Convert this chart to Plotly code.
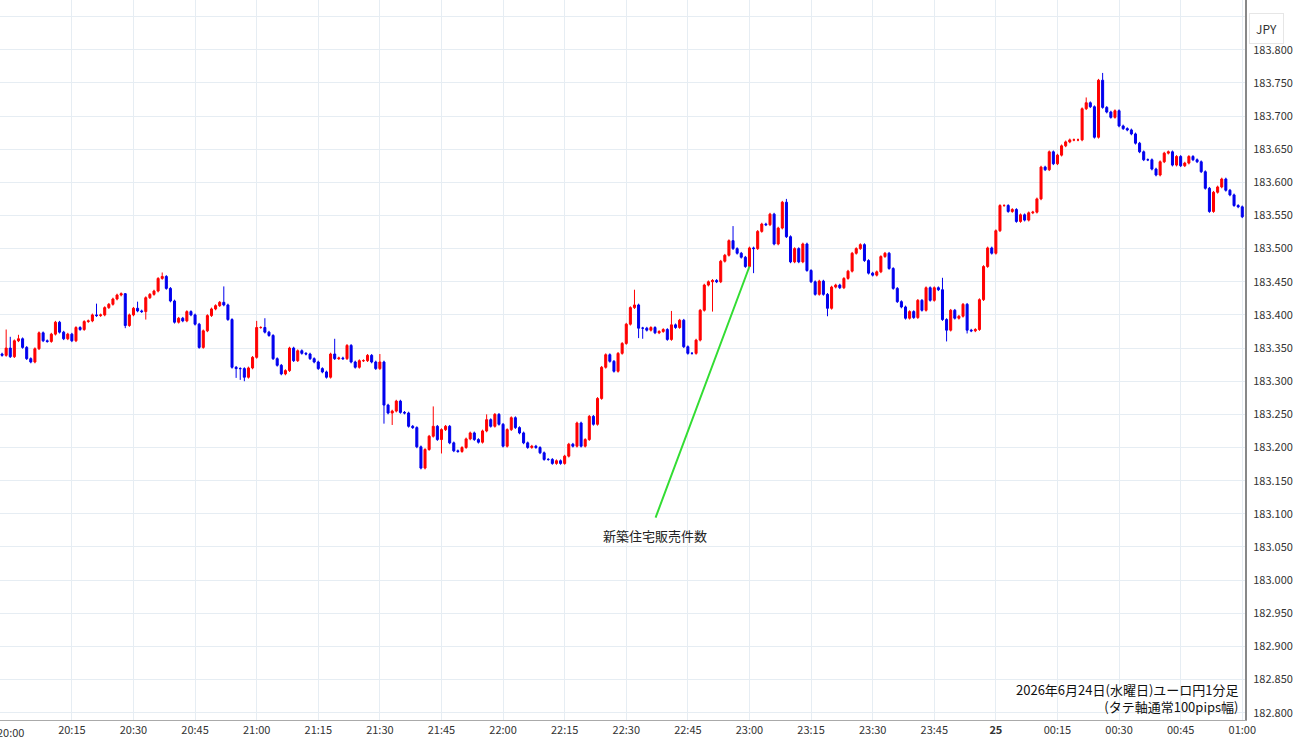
import plotly.graph_objects as go
import pandas as pd

# closes per 1-minute candle (EUR/JPY)
close_a = [183.339,183.350,183.337,183.361,183.364,183.351,183.334,183.329,183.349,183.373,
           183.361,183.360,183.371,183.389,183.374,183.364,183.371,183.361,183.381,183.378,
           183.390,183.391,183.400,183.399,183.400,183.411,183.416,183.424,183.430,183.432,
           183.384,183.400,183.410,183.406,183.405,183.426,183.431,183.436,183.455,183.458,
           183.440,183.421,183.389,183.395,183.391,183.405,183.400,183.386,183.351,183.376,
           183.399,183.409,183.414,183.419,183.415,183.393,183.321,183.319,183.319,183.306,
           183.320,183.336,183.381,183.381,183.374,183.369,183.334,183.324,183.311,183.316,
           183.350,183.331,183.346,183.342,183.341,183.334,183.329,183.319,183.314,183.306,
           183.341,183.334,183.335,183.334,183.354,183.329,183.321,183.331,183.331,183.339,
           183.329,183.319,183.329]
close_b = [183.264,183.252,183.255,183.270,183.253,183.252,183.232,183.230,183.201,183.169,
           183.197,183.217,183.232,183.212,183.227,183.232,183.207,183.195,183.194,183.200,
           183.213,183.222,183.212,183.208,183.225,183.242,183.232,183.250,183.235,183.202,
           183.227,183.245,183.230,183.222,183.207,183.200,183.202,183.200,183.192,183.182,
           183.182,183.176,183.180,183.176,183.187,183.205,183.202,183.237,183.202,183.212,
           183.247,183.235,183.274,183.321,183.340,183.330,183.315,183.342,183.357,183.386,
           183.411,183.415,183.380,183.380,183.377,183.381,183.373,183.375,183.378,183.363,
           183.385,183.381,183.392,183.352,183.342,183.342,183.362]
close_c = [183.407,183.445,183.450,183.452,183.450,183.481,183.490,183.512,183.500,183.493,
           183.487,183.473,183.501,183.500,183.526,183.537,183.536,183.552,183.507,183.531,
           183.570,183.518,183.480,183.500,183.480,183.507,183.467,183.450,183.431,183.451,
           183.431,183.410,183.442,183.445,183.441,183.455,183.466,183.493,183.500,183.506,
           183.482,183.463,183.460,183.465,183.488,183.493,183.470,183.440,183.420,183.412,
           183.395,183.405,183.396,183.422,183.407,183.441,183.422,183.441,183.438,183.393,
           183.377,183.407,183.395,183.398,183.416,183.377,183.376,183.378,183.423,183.473,
           183.501,183.493,183.527]
close_d = [183.565,183.565,183.556,183.559,183.541,183.551,183.543,183.554,183.555,183.575,
           183.623,183.619,183.646,183.628,183.641,183.655,183.661,183.664,183.664,183.664,
           183.711,183.720,183.714,183.668,183.754,183.713,183.706,183.698,183.708,183.685,
           183.681,183.679,183.673,183.659,183.646,183.634,183.634,183.620,183.611,183.631,
           183.644,183.646,183.626,183.639,183.625,183.629,183.639,183.634,183.631,183.616,
           183.591,183.556,183.585,183.593,183.605,183.588,183.581,183.565,183.563,183.548]
first_open = 183.341

# wick lengths beyond the body, in 0.001 yen
wick_up = [2,28,17,2,6,2,2,2,2,2, 2,2,2,2,2,2,2,2,2,2, 2,2,2,17,2,2,2,2,2,2,
           1,2,2,10,2,2,2,2,2,6, 2,2,2,2,2,2,2,2,2,2, 2,2,2,2,24,2,2,2,2,2,
           2,2,10,2,14,2,2,2,2,2, 2,2,2,2,2,2,2,2,2,2, 2,23,2,2,2,2,2,2,2,2, 2,2,12,
           2,2,2,2,2,2,2,2,2,2, 2,2,30,2,2,2,2,2,2,2, 2,2,2,2,2,8,2,2,2,2,
           2,2,2,2,2,2,2,2,2,2, 2,2,2,2,2,2,2,2,2,2, 2,2,2,2,2,2,2,2,2,2,
           2,23,2,2,2,2,2,2,2,2, 21,2,2,2,2,2,2,
           2,2,2,2,2,2,2,2,22,2, 2,2,2,2,2,2,2,2,2,2, 2,5,2,2,2,2,2,2,2,2,
           2,2,2,2,2,2,2,2,2,2, 2,2,2,2,2,2,2,2,2,2, 2,2,2,2,2,2,2,2,2,18,
           2,2,2,2,2,2,2,2,2,2, 2,2,2,
           2,2,2,2,2,2,2,2,2,2, 2,2,2,2,2,2,2,2,2,2, 2,8,2,2,2,11,2,2,2,2,
           2,2,2,2,2,2,2,2,2,2, 2,2,2,2,2,2,2,2,2,2, 2,2,2,2,2,2,2,2,2,2]
wick_dn = [2,2,2,2,2,2,2,2,2,2, 2,2,2,2,2,2,2,2,2,2, 2,2,2,2,2,2,2,2,2,2,
           4,2,2,2,2,12,2,2,2,2, 2,2,2,2,2,2,2,2,2,2, 2,2,2,2,2,2,2,14,17,6,
           2,2,2,2,2,2,2,2,2,2, 2,2,2,2,2,2,2,2,2,2, 2,2,2,2,2,2,2,2,2,2, 2,2,2,
           28,2,18,2,2,2,2,2,2,2, 2,2,2,2,21,2,2,2,2,2, 2,2,2,2,2,2,2,2,2,2,
           2,2,2,2,2,2,2,2,2,2, 2,2,2,2,2,2,2,2,2,2, 2,2,2,2,2,2,2,2,2,2,
           2,2,15,16,2,2,2,2,2,2, 2,2,2,2,2,2,2,
           2,2,2,45,2,2,2,2,2,2, 2,2,2,37,2,2,2,2,2,2, 2,2,2,2,2,2,2,2,2,2,
           2,12,2,2,2,2,2,2,2,2, 2,2,2,2,2,2,2,2,2,2, 2,2,2,2,2,2,2,2,2,2,
           17,2,2,2,2,5,2,2,2,2, 2,2,2,
           2,2,2,2,2,2,2,2,2,2, 2,2,2,2,2,2,2,2,2,2, 2,2,2,2,2,2,2,2,2,2,
           2,2,2,2,2,2,2,2,2,2, 2,2,2,2,2,2,2,2,2,2, 2,2,2,2,2,2,2,2,2,2]

tick_times = ["20:00","20:15","20:30","20:45","21:00","21:15","21:30","21:45","22:00",
              "22:15","22:30","22:45","23:00","23:15","23:30","23:45","00:00","00:15",
              "00:30","00:45","01:00"]
tick_labels = ["20:00","20:15","20:30","20:45","21:00","21:15","21:30","21:45","22:00",
               "22:15","22:30","22:45","23:00","23:15","23:30","23:45","<b>25</b>","00:15",
               "00:30","00:45","01:00"]
price_ticks = [182.80,182.85,182.90,182.95,183.00,183.05,183.10,183.15,183.20,183.25,183.30,
               183.35,183.40,183.45,183.50,183.55,183.60,183.65,183.70,183.75,183.80,183.85]

closes = close_a + close_b + close_c + close_d
opens = [first_open] + closes[:-1]
highs = [max(o, c) + w / 1000 for o, c, w in zip(opens, closes, wick_up)]
lows = [min(o, c) - w / 1000 for o, c, w in zip(opens, closes, wick_dn)]
times = pd.date_range("2026-06-24 19:58", periods=len(closes), freq="min")

tickvals = [pd.Timestamp(("2026-06-25 " if t < "12" else "2026-06-24 ") + t) for t in tick_times]
# top gridline has no label (JPY box sits there)
price_text = [f"{p:.3f}" for p in price_ticks[:-1]] + [""]

fig = go.Figure(go.Candlestick(
    x=times, open=opens, high=highs, low=lows, close=closes,
    increasing=dict(line=dict(color="#ff0000", width=1), fillcolor="#ff0000"),
    decreasing=dict(line=dict(color="#0000ee", width=1), fillcolor="#0000ee"),
    whiskerwidth=0, showlegend=False, hoverinfo="skip"))

# news marker line
fig.add_annotation(x=pd.Timestamp("2026-06-24 23:00"), y=183.473,
                   ax=pd.Timestamp("2026-06-24 22:37"), ay=183.092,
                   xref="x", yref="y", axref="x", ayref="y",
                   text="", showarrow=True, arrowhead=0, arrowwidth=2, arrowcolor="#33dd33")
fig.add_annotation(x=pd.Timestamp("2026-06-24 22:37"), y=183.068, xref="x", yref="y",
                   text="新築住宅販売件数", showarrow=False,
                   font=dict(size=13, color="#222"))
fig.add_annotation(x=0.997, y=0.003, xref="paper", yref="paper", xanchor="right", yanchor="bottom",
                   text="2026年6月24日(水曜日)ユーロ円1分足<br>(タテ軸通常100pips幅)",
                   showarrow=False, align="right", font=dict(size=13, color="#111"))
fig.add_annotation(x=1.0175, y=0.982, xref="paper", yref="paper", xanchor="center",
                   showarrow=False, text="JPY", font=dict(size=12, color="#333"),
                   bordercolor="#e6e6e6", borderwidth=1, borderpad=6, bgcolor="white")
# 20:00 label partly clipped at the left edge, as in the source
fig.add_annotation(x=pd.Timestamp("2026-06-24 20:00"), y=0, xref="x", yref="paper",
                   yanchor="top", yshift=-2, showarrow=False, text="20:00",
                   font=dict(size=11, color="#333"))

fig.update_layout(
    width=1300, height=745, margin=dict(l=0, r=55, t=0, b=25),
    paper_bgcolor="white", plot_bgcolor="white",
    font=dict(family="Noto Sans CJK JP, Noto Sans, sans-serif", size=11, color="#333"),
    xaxis=dict(rangeslider=dict(visible=False), tickvals=tickvals[1:], ticktext=tick_labels[1:],
               range=[pd.Timestamp("2026-06-24 19:57:30"), times[-1] + pd.Timedelta(seconds=40)],
               showgrid=True, gridcolor="#e6edf3", showline=True, linecolor="#aaa", ticks=""),
    yaxis=dict(side="right", range=[182.789, 183.875], tickvals=price_ticks, ticktext=price_text,
               showgrid=True, gridcolor="#e6edf3", tickfont=dict(size=11),
               showline=True, linecolor="#888", linewidth=2, ticks="", ticklabelstandoff=4),
)

fig.write_html("out.html", config={"displayModeBar": False},
               post_script="document.body.style.margin='0';")
